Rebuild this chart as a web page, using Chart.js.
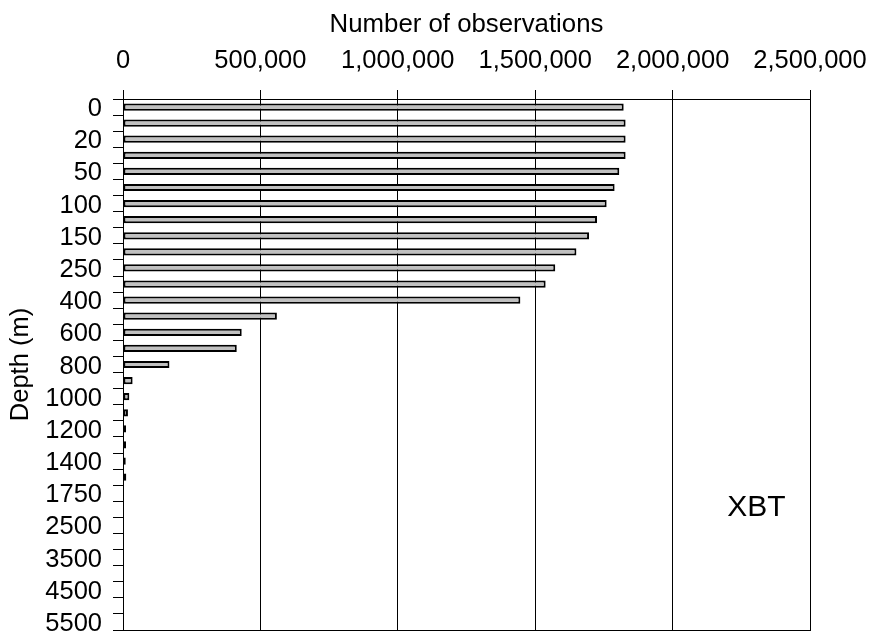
<!DOCTYPE html>
<html>
<head>
<meta charset="utf-8">
<title>XBT observations by depth</title>
<script src="https://cdn.jsdelivr.net/npm/chart.js@4"></script>
<style>
    html, body { margin: 0; padding: 0; background: #fff; }
    #wrap { width: 875px; height: 634px; position: relative; }
</style>
</head>
<body>
<div id="wrap"><canvas id="obsChart"></canvas></div>
<script>
// ─── Data ─────────────────────────────────────────────────────────────────────
const depths = [0, 10, 20, 30, 50, 75, 100, 125, 150, 200, 250, 300, 400, 500, 600, 700, 800,
    900, 1000, 1100, 1200, 1300, 1400, 1500, 1750, 2000, 2500, 3000, 3500, 4000, 4500, 5000, 5500];
const observations = [1822000, 1829000, 1829000, 1829000, 1806000, 1789000, 1760000, 1725000,
    1696000, 1650000, 1573000, 1538000, 1446000, 560000, 432000, 414000, 169000,
    35000, 23000, 18000, 11000, 11000, 10000, 12000, 0, 0, 0, 0, 0, 0, 0, 0, 0];
const xTickValues = [0, 500000, 1000000, 1500000, 2000000, 2500000];
const probeLabel = 'XBT';

const FONT = '"Liberation Sans", Arial, sans-serif';

// ─── Frame + probe label ──────────────────────────────────────────────────────
const framePlugin = {
    id: 'frame',
    afterDraw(chart) {
        const { ctx, chartArea: a } = chart;
        ctx.save();
        ctx.strokeStyle = '#000';
        ctx.lineWidth = 1;
        ctx.beginPath();
        ctx.moveTo(a.left, a.bottom + 0.5);
        ctx.lineTo(a.right + 1, a.bottom + 0.5);
        ctx.stroke();

        ctx.fillStyle = '#000';
        ctx.font = `30px ${FONT}`;
        ctx.textAlign = 'center';
        ctx.textBaseline = 'middle';
        ctx.fillText(probeLabel, a.left + (a.right - a.left) * 0.922, a.top + (a.bottom - a.top) * 0.77);
        ctx.restore();
    }
};

// ─── Chart ────────────────────────────────────────────────────────────────────
new Chart(document.getElementById('obsChart'), {
    type: 'bar',
    data: {
        labels: depths,
        datasets: [{
            data: observations,
            backgroundColor: '#c0c0c0',
            borderColor: '#000',
            borderWidth: 2,
            borderSkipped: false,
            categoryPercentage: 1,
            barPercentage: 0.45
        }]
    },
    options: {
        indexAxis: 'y',
        responsive: true,
        maintainAspectRatio: false,
        animation: false,
        layout: { padding: { left: 0, top: 0, right: 65, bottom: 4 } },
        plugins: { legend: { display: false }, tooltip: { enabled: false } },
        scales: {
            x: {
                position: 'top',
                min: 0,
                max: 2500000,
                z: 1,
                afterBuildTicks: s => { s.ticks = xTickValues.map(v => ({ value: v })); },
                afterFit: s => { s.height = 99; s.paddingLeft = 0; s.paddingRight = 0; },
                border: { display: true, color: '#000', width: 1 },
                grid: { color: '#000', lineWidth: 1, drawTicks: true, tickLength: 9, tickColor: '#000' },
                ticks: {
                    color: '#000',
                    padding: 14,
                    font: { family: FONT, size: 25.5 },
                    callback: v => Number(v).toLocaleString('en-US')
                },
                title: {
                    display: true,
                    text: 'Number of observations',
                    color: '#000',
                    font: { family: FONT, size: 25.8 },
                    padding: { top: 9, bottom: 0 }
                }
            },
            y: {
                offset: true,
                afterFit: s => { s.width = 123; s.paddingTop = 0; s.paddingBottom = 0; },
                border: { display: true, color: '#000', width: 1 },
                grid: { offset: true, drawOnChartArea: false, drawTicks: true, tickLength: 10, tickColor: '#000', color: '#000' },
                ticks: {
                    color: '#000',
                    padding: 11,
                    labelOffset: 2,
                    autoSkip: false,
                    font: { family: FONT, size: 25.5 },
                    callback: (v, i) => (i % 2 === 0 ? String(depths[i]) : '')
                },
                title: {
                    display: true,
                    text: 'Depth (m)',
                    color: '#000',
                    font: { family: FONT, size: 25.5 },
                    padding: { top: 6, bottom: 0 }
                }
            }
        }
    },
    plugins: [framePlugin]
});
</script>
</body>
</html>
